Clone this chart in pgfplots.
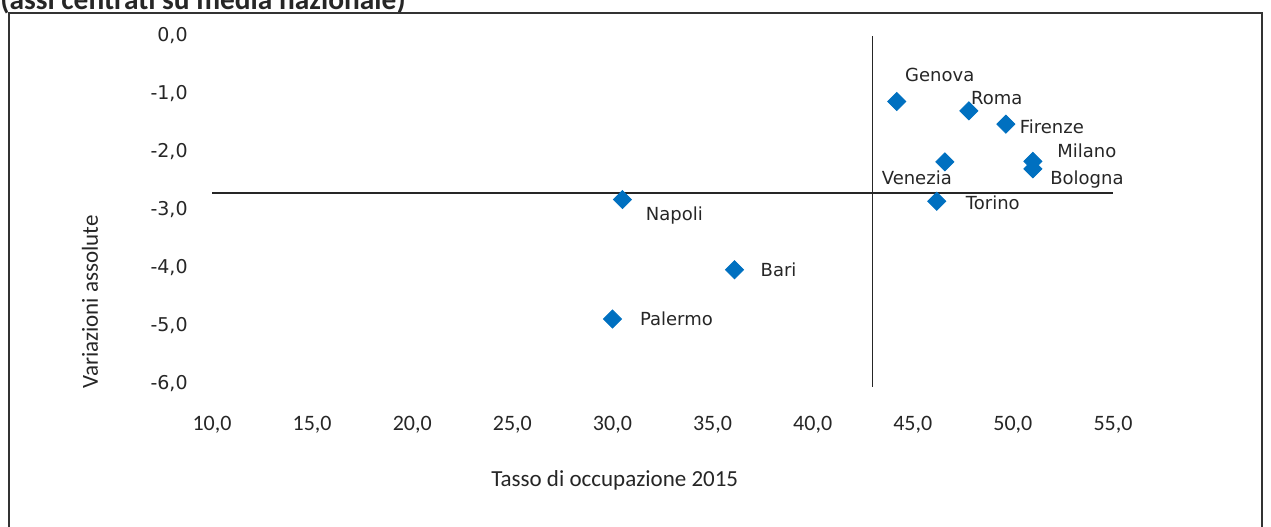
\documentclass[border=0pt]{standalone}
\usepackage{fontspec}
\setmainfont{Carlito}
\newfontfamily\dejavu{DejaVu Sans}
\usepackage{pgfplots}
\usepackage{pgfplotstable}
\pgfplotsset{compat=1.18}
\definecolor{pointblue}{RGB}{0,112,192}
\definecolor{txt}{RGB}{38,38,38}

% city, x = tasso di occupazione, y = variazione; dx/dy = label offset in pt
\pgfplotstableread{
x y dx dy name
44.2 -1.13 21.5 13.5 Genova
47.8 -1.29 14 6.5 Roma
49.65 -1.52 23 -1.5 Firenze
51.0 -2.16 27 5.5 Milano
51.0 -2.29 27 -5.5 Bologna
46.6 -2.17 -14 -8 Venezia
46.2 -2.85 28 -0.5 Torino
30.5 -2.82 26 -8 Napoli
36.1 -4.03 22 0 Bari
30.0 -4.88 32 0 Palermo
}\cities

\begin{document}
\begin{tikzpicture}
\path[use as bounding box, clip] (0,0) rectangle (635.5pt,-263pt);
\node[anchor=base west, inner sep=0pt, font=\bfseries\fontsize{14.7}{17}\selectfont, text=txt]
  at (0pt,-4.5pt) {(assi centrati su media nazionale)};
\draw[line width=0.9pt, black!80] (4.5pt,-300pt) -- (4.5pt,-6.5pt) -- (631pt,-6.5pt) -- (631pt,-300pt);
\begin{axis}[
  at={(106pt,-192pt)}, anchor=south west,
  scale only axis, width=450.5pt, height=174pt,
  xmin=10, xmax=55, ymin=-6, ymax=0,
  clip=false,
  axis line style={draw=none},
  major tick length=0pt,
  xtick={10,15,...,55},
  xticklabels={{10,0},{15,0},{20,0},{25,0},{30,0},{35,0},{40,0},{45,0},{50,0},{55,0}},
  ytick={-6,-5,...,0},
  yticklabels={{-6,0},{-5,0},{-4,0},{-3,0},{-2,0},{-1,0},{0,0}},
  xticklabel style={anchor=center, inner sep=0pt, yshift=-20.5pt, text=txt,
    font=\fontsize{11}{13}\selectfont},
  yticklabel style={anchor=east, inner sep=0pt, xshift=-12pt, text=txt,
    font=\dejavu\fontsize{9.5}{11}\selectfont},
  xlabel={Tasso di occupazione 2015},
  ylabel={Variazioni assolute},
  every axis x label/.style={at={(axis description cs:0.447,-0.276)}, anchor=center,
    text=txt, font=\fontsize{11.5}{13}\selectfont},
  every axis y label/.style={at={(axis description cs:-0.1354,0.236)}, anchor=center,
    rotate=90, text=txt, font=\fontsize{11.5}{13}\selectfont},
]
% reference lines at the national means
\addplot[black!85, line width=0.7pt] coordinates {(10,-2.71) (55,-2.71)};
\addplot[black!85, line width=0.5pt] coordinates {(43.0,0) (43.0,-6.05)};
\addplot[
  only marks,
  mark=square*,
  mark size=3.2pt,
  mark options={rotate=45, fill=pointblue, draw=pointblue},
  point meta=explicit symbolic,
  visualization depends on={\thisrow{dx} \as \dx},
  visualization depends on={\thisrow{dy} \as \dy},
  nodes near coords,
  every node near coord/.append style={anchor=center, xshift=\dx pt, yshift=\dy pt,
    inner sep=0pt, text=txt, font=\dejavu\fontsize{9}{11}\selectfont},
] table[x=x, y=y, meta=name] {\cities};
\end{axis}
\end{tikzpicture}
\end{document}
